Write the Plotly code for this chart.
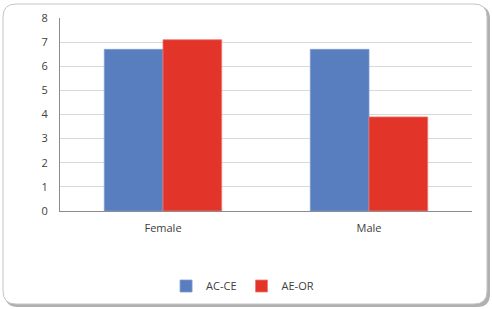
import plotly.graph_objects as go

categories = ["Female", "Male"]
series_names = ["AC-CE", "AE-OR"]
ac_ce = [6.7, 6.7]
ae_or = [7.1, 3.9]
y_ticks = [0, 1, 2, 3, 4, 5, 6, 7, 8]

W, H = 492, 309
L, R, T, B = 60, 20, 18, 98
PW, PH = W - L - R, H - T - B

def px(x, y):
    return ((x - L) / PW, (H - B - y) / PH)

def rrect(x0, y0, x1, y1, r):
    def P(x, y):
        a, b = px(x, y)
        return f"{a:.5f},{b:.5f}"
    d = f"M {P(x0 + r, y0)} L {P(x1 - r, y0)} Q {P(x1, y0)} {P(x1, y0 + r)} "
    d += f"L {P(x1, y1 - r)} Q {P(x1, y1)} {P(x1 - r, y1)} "
    d += f"L {P(x0 + r, y1)} Q {P(x0, y1)} {P(x0, y1 - r)} "
    d += f"L {P(x0, y0 + r)} Q {P(x0, y0)} {P(x0 + r, y0)} Z"
    return d

fig = go.Figure()
fig.add_trace(go.Bar(name=series_names[0], x=categories, y=ac_ce,
                     marker=dict(color="#587EBF", line=dict(color="#7F9DD0", width=0.8))))
fig.add_trace(go.Bar(name=series_names[1], x=categories, y=ae_or,
                     marker=dict(color="#E3342A", line=dict(color="#EE7A70", width=0.8))))

shapes = [
    dict(type="path", path=rrect(5, 6, 490, 307, 13), xref="paper", yref="paper",
         fillcolor="#b0b0b0", line=dict(width=0), layer="below"),
    dict(type="path", path=rrect(3, 4, 487, 304, 13), xref="paper", yref="paper",
         fillcolor="white", line=dict(color="#c4c4c4", width=1), layer="below"),
]

fig.update_layout(
    width=W, height=H,
    margin=dict(l=L, r=R, t=T, b=B, autoexpand=False),
    paper_bgcolor="white", plot_bgcolor="rgba(0,0,0,0)",
    barmode="group", bargap=0.43, bargroupgap=0,
    font=dict(family="Open Sans, Liberation Sans, sans-serif", size=11, color="#404040"),
    shapes=shapes,
    showlegend=True,
    legend=dict(orientation="h", xref="container", yref="container",
                x=0.493, xanchor="center", y=(H - 286) / H, yanchor="middle",
                font=dict(size=11, color="#404040"), itemwidth=30, traceorder="normal",
                bgcolor="rgba(0,0,0,0)"),
    xaxis=dict(showline=True, linecolor="#8c8c8c", linewidth=1, ticks="",
               tickfont=dict(size=11, color="#404040"), ticklabelstandoff=7,
               showgrid=False),
    yaxis=dict(range=[0, 8], tickvals=y_ticks, showline=True, linecolor="#8c8c8c",
               linewidth=1, gridcolor="#d9d9d9", gridwidth=1, ticks="",
               tickfont=dict(size=11, color="#404040"), ticklabelstandoff=9,
               zeroline=False),
)

fig.write_html("out.html", config={"displayModeBar": False},
               post_script="document.body.style.margin='0';document.documentElement.style.overflow='hidden';")
